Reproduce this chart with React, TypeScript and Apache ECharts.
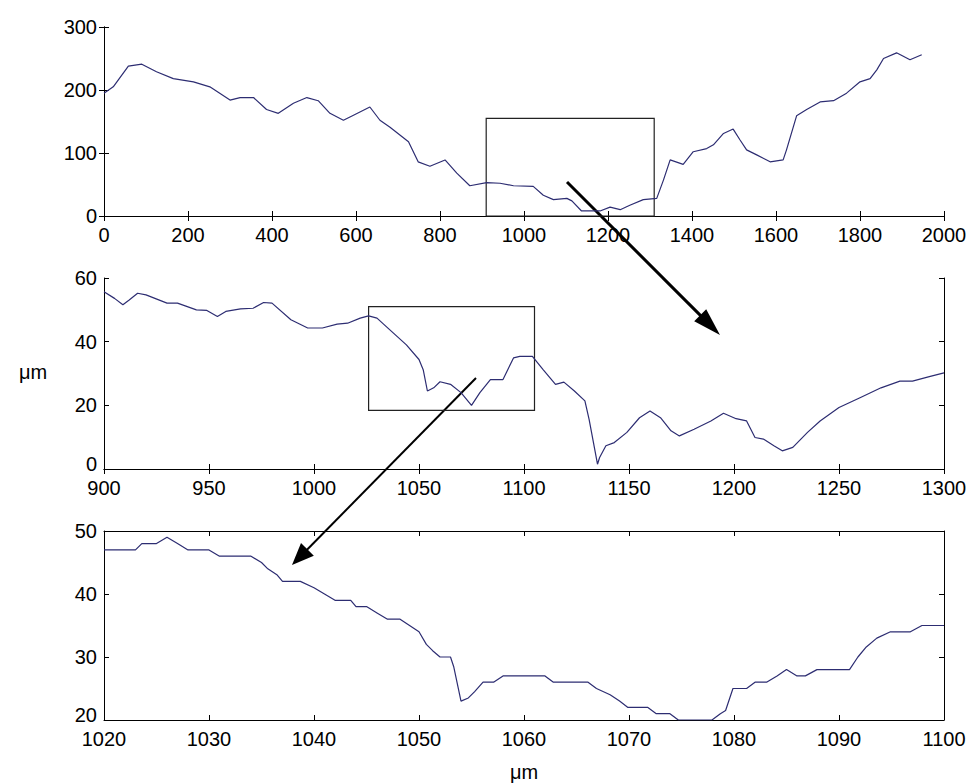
import React, { useEffect, useRef } from "react";
import * as echarts from "echarts";

// ---- Panel 1 (overview 0-2000) ----
const topX = [0, 22, 58, 90, 125, 165, 213, 252, 300, 324, 356, 387, 415, 451, 483, 510, 538, 570, 594, 633, 657, 681, 725, 748, 776, 812, 840, 871, 911, 943, 975, 1022, 1046, 1070, 1102, 1114, 1137, 1181, 1205, 1229, 1252, 1284, 1316, 1332, 1348, 1379, 1403, 1435, 1451, 1475, 1498, 1514, 1530, 1554, 1586, 1617, 1625, 1649, 1673, 1705, 1737, 1768, 1800, 1824, 1840, 1856, 1887, 1919, 1947];
const topY = [195, 205, 238, 241, 229, 218, 213, 205, 184, 188, 188, 169, 163, 179, 188, 183, 163, 152, 160, 173, 152, 141, 118, 86, 79, 89, 68, 48, 53, 52, 48, 47, 33, 26, 28, 24, 8, 8, 14, 10, 17, 26, 28, 57, 89, 82, 102, 107, 113, 131, 138, 121, 105, 97, 86, 89, 105, 159, 169, 181, 183, 195, 213, 218, 232, 250, 259, 248, 256];

// ---- Panel 2 (900-1300) ----
const midX = [900, 905, 909, 912, 916, 920, 930, 935, 944, 949, 954, 958, 965, 971, 976, 980, 989, 997, 1004, 1011, 1016, 1022, 1026, 1030, 1036, 1044, 1050, 1052, 1054, 1057, 1060, 1065, 1070, 1075, 1079, 1084, 1090, 1095, 1098, 1104, 1109, 1115, 1119, 1124, 1129, 1131, 1135, 1136, 1139, 1143, 1149, 1155, 1160, 1165, 1170, 1174, 1181, 1189, 1195, 1201, 1206, 1210, 1214, 1219, 1223, 1228, 1235, 1241, 1250, 1260, 1270, 1279, 1285, 1293, 1300];
const midY = [55.7, 53.6, 51.6, 53.1, 55.2, 54.7, 52.1, 52.1, 50, 49.8, 47.9, 49.5, 50.3, 50.5, 52.3, 52.1, 46.9, 44.3, 44.3, 45.5, 45.8, 47.4, 48.1, 47.4, 43.8, 39, 34.4, 31.2, 24.5, 25.5, 27.4, 26.6, 24, 20, 24, 28.1, 28.1, 34.9, 35.4, 35.4, 31.3, 26.6, 27.3, 24.5, 21.4, 15.6, 1.5, 3.6, 7.3, 8.3, 11.5, 16.1, 18.2, 16.1, 12, 10.4, 12.5, 15.1, 17.5, 15.8, 15.1, 9.9, 9.4, 7.3, 5.7, 6.8, 11.5, 15.1, 19.3, 22.4, 25.5, 27.6, 27.6, 29, 30.2];

// ---- Panel 3 (1020-1100) ----
const botX = [1020, 1023, 1023.6, 1025, 1026, 1027, 1028, 1030, 1031, 1034, 1035, 1035.6, 1036.5, 1037, 1038.7, 1040, 1041, 1042, 1043.5, 1044, 1045, 1046, 1047, 1048.2, 1049.1, 1050, 1050.7, 1051.3, 1052, 1053, 1053.3, 1054, 1054.7, 1055.3, 1056.1, 1057.1, 1058, 1062, 1062.8, 1066.1, 1066.9, 1068.2, 1069.1, 1069.9, 1071.8, 1072.6, 1073.9, 1074.7, 1077.9, 1078.7, 1079.2, 1079.9, 1081.2, 1082, 1083.1, 1084.1, 1085, 1086, 1086.8, 1087.9, 1091, 1091.8, 1092.6, 1093.6, 1094.9, 1096.8, 1097.9, 1100];
const botY = [47, 47, 48, 48, 49, 48, 47, 47, 46, 46, 45, 44, 43, 42, 42, 41, 40, 39, 39, 38, 38, 37, 36, 36, 35, 34, 32, 31, 30, 30, 28.5, 23, 23.5, 24.5, 26, 26, 27, 27, 26, 26, 25, 24, 23, 22, 22, 21, 21, 20, 20, 21, 21.5, 25, 25, 26, 26, 27, 28, 27, 27, 28, 28, 30, 31.6, 33, 34, 34, 35, 35];

// zoom boxes: [x1, y1, x2, y2]
const box1 = [910, 0, 1310, 155];
const box2 = [1026, 18.4, 1105, 51];

// axis ranges: [min, max, interval]
const xRanges = [[0, 2000, 200], [900, 1300, 50], [1020, 1100, 10]];
const yRanges = [[0, 300, 100], [0, 60, 20], [20, 50, 10]];

const unitLabel = "μm";

const FONT = "'Liberation Sans', Arial, Helvetica, sans-serif";
const LINE_COLOR = "#2d2d72";

function arrow(x1: number, y1: number, x2: number, y2: number, w: number, headLen: number, headHalf: number) {
  const dx = x2 - x1;
  const dy = y2 - y1;
  const len = Math.sqrt(dx * dx + dy * dy);
  const ux = dx / len;
  const uy = dy / len;
  const bx = x2 - ux * headLen;
  const by = y2 - uy * headLen;
  const px = -uy * headHalf;
  const py = ux * headHalf;
  return [
    {
      type: "line",
      shape: { x1, y1, x2: bx + ux * 2, y2: by + uy * 2 },
      style: { stroke: "#000", lineWidth: w },
      silent: true,
    },
    {
      type: "polygon",
      shape: { points: [[x2, y2], [bx + px, by + py], [bx - px, by - py]] },
      style: { fill: "#000" },
      silent: true,
    },
  ];
}

export default function App() {
  const ref = useRef<HTMLDivElement>(null);

  useEffect(() => {
    if (!ref.current) return;
    const chart = echarts.init(ref.current, undefined, { renderer: "svg" });

    const grids = [
      { left: 104, top: 27, width: 840, height: 189 },
      { left: 104, top: 278, width: 840, height: 191 },
      { left: 104, top: 531, width: 840, height: 189 },
    ];

    const axisLine = { show: true, lineStyle: { color: "#000", width: 1 } };
    const tick = { show: true, inside: true, length: 5, lineStyle: { color: "#000" } };
    const baseText = { color: "#000", fontSize: 20, fontFamily: FONT };

    const xAxis: any[] = [];
    const yAxis: any[] = [];
    for (let i = 0; i < 3; i++) {
      const [xmin, xmax, xint] = xRanges[i];
      const [ymin, ymax, yint] = yRanges[i];
      const shiftMin = i > 0;
      xAxis.push({
        type: "value", gridIndex: i, position: "bottom", min: xmin, max: xmax, interval: xint,
        axisLine, axisTick: tick, splitLine: { show: false },
        axisLabel: { ...baseText, lineHeight: 15, margin: 11, formatter: (v: number) => String(v) },
        ...(i === 2
          ? { name: unitLabel, nameLocation: "middle", nameGap: 42, nameTextStyle: { ...baseText } }
          : {}),
      });
      xAxis.push({
        type: "value", gridIndex: i, position: "top", min: xmin, max: xmax, interval: xint,
        axisLine, axisTick: tick, splitLine: { show: false }, axisLabel: { show: false },
      });
      yAxis.push({
        type: "value", gridIndex: i, position: "left", min: ymin, max: ymax, interval: yint,
        axisLine, axisTick: tick, splitLine: { show: false },
        axisLabel: {
          ...baseText,
          margin: 7,
          formatter: (v: number, idx: number) => (shiftMin && idx === 0 ? `{lo|${v}}` : String(v)),
          rich: { lo: { ...baseText, padding: [0, 0, 10, 0] } },
        },
      });
      yAxis.push({
        type: "value", gridIndex: i, position: "right", min: ymin, max: ymax, interval: yint,
        axisLine, axisTick: tick, splitLine: { show: false }, axisLabel: { show: false },
      });
    }

    const zip = (xs: number[], ys: number[]) => xs.map((x, k) => [x, ys[k]]);
    const boxArea = (b: number[]) => ({
      silent: true,
      itemStyle: { color: "rgba(0,0,0,0)", borderColor: "#222", borderWidth: 1.2 },
      label: { show: false },
      data: [[{ xAxis: b[0], yAxis: b[1] }, { xAxis: b[2], yAxis: b[3] }]],
    });

    const lineSeries = (idx: number, data: number[][], box?: number[]) => ({
      type: "line",
      xAxisIndex: idx * 2,
      yAxisIndex: idx * 2,
      data,
      showSymbol: false,
      symbol: "none",
      clip: true,
      lineStyle: { color: LINE_COLOR, width: 1.2 },
      ...(box ? { markArea: boxArea(box) } : {}),
    });

    chart.setOption({
      animation: false,
      backgroundColor: "#fff",
      grid: grids,
      xAxis,
      yAxis,
      series: [
        lineSeries(0, zip(topX, topY), box1),
        lineSeries(1, zip(midX, midY), box2),
        lineSeries(2, zip(botX, botY)),
      ],
      graphic: [
        {
          type: "text",
          x: 33,
          y: 372,
          style: { text: unitLabel, fill: "#000", fontSize: 20, fontFamily: FONT, align: "center", verticalAlign: "middle" },
          silent: true,
        },
        ...arrow(567, 182, 720, 335, 3, 28, 8.5),
        ...arrow(476, 378, 292, 565, 2, 22, 9),
      ],
    });

    return () => chart.dispose();
  }, []);

  return (
    <div
      ref={ref}
      style={{ position: "fixed", left: 0, top: 0, width: 973, height: 783, background: "#fff" }}
    />
  );
}
